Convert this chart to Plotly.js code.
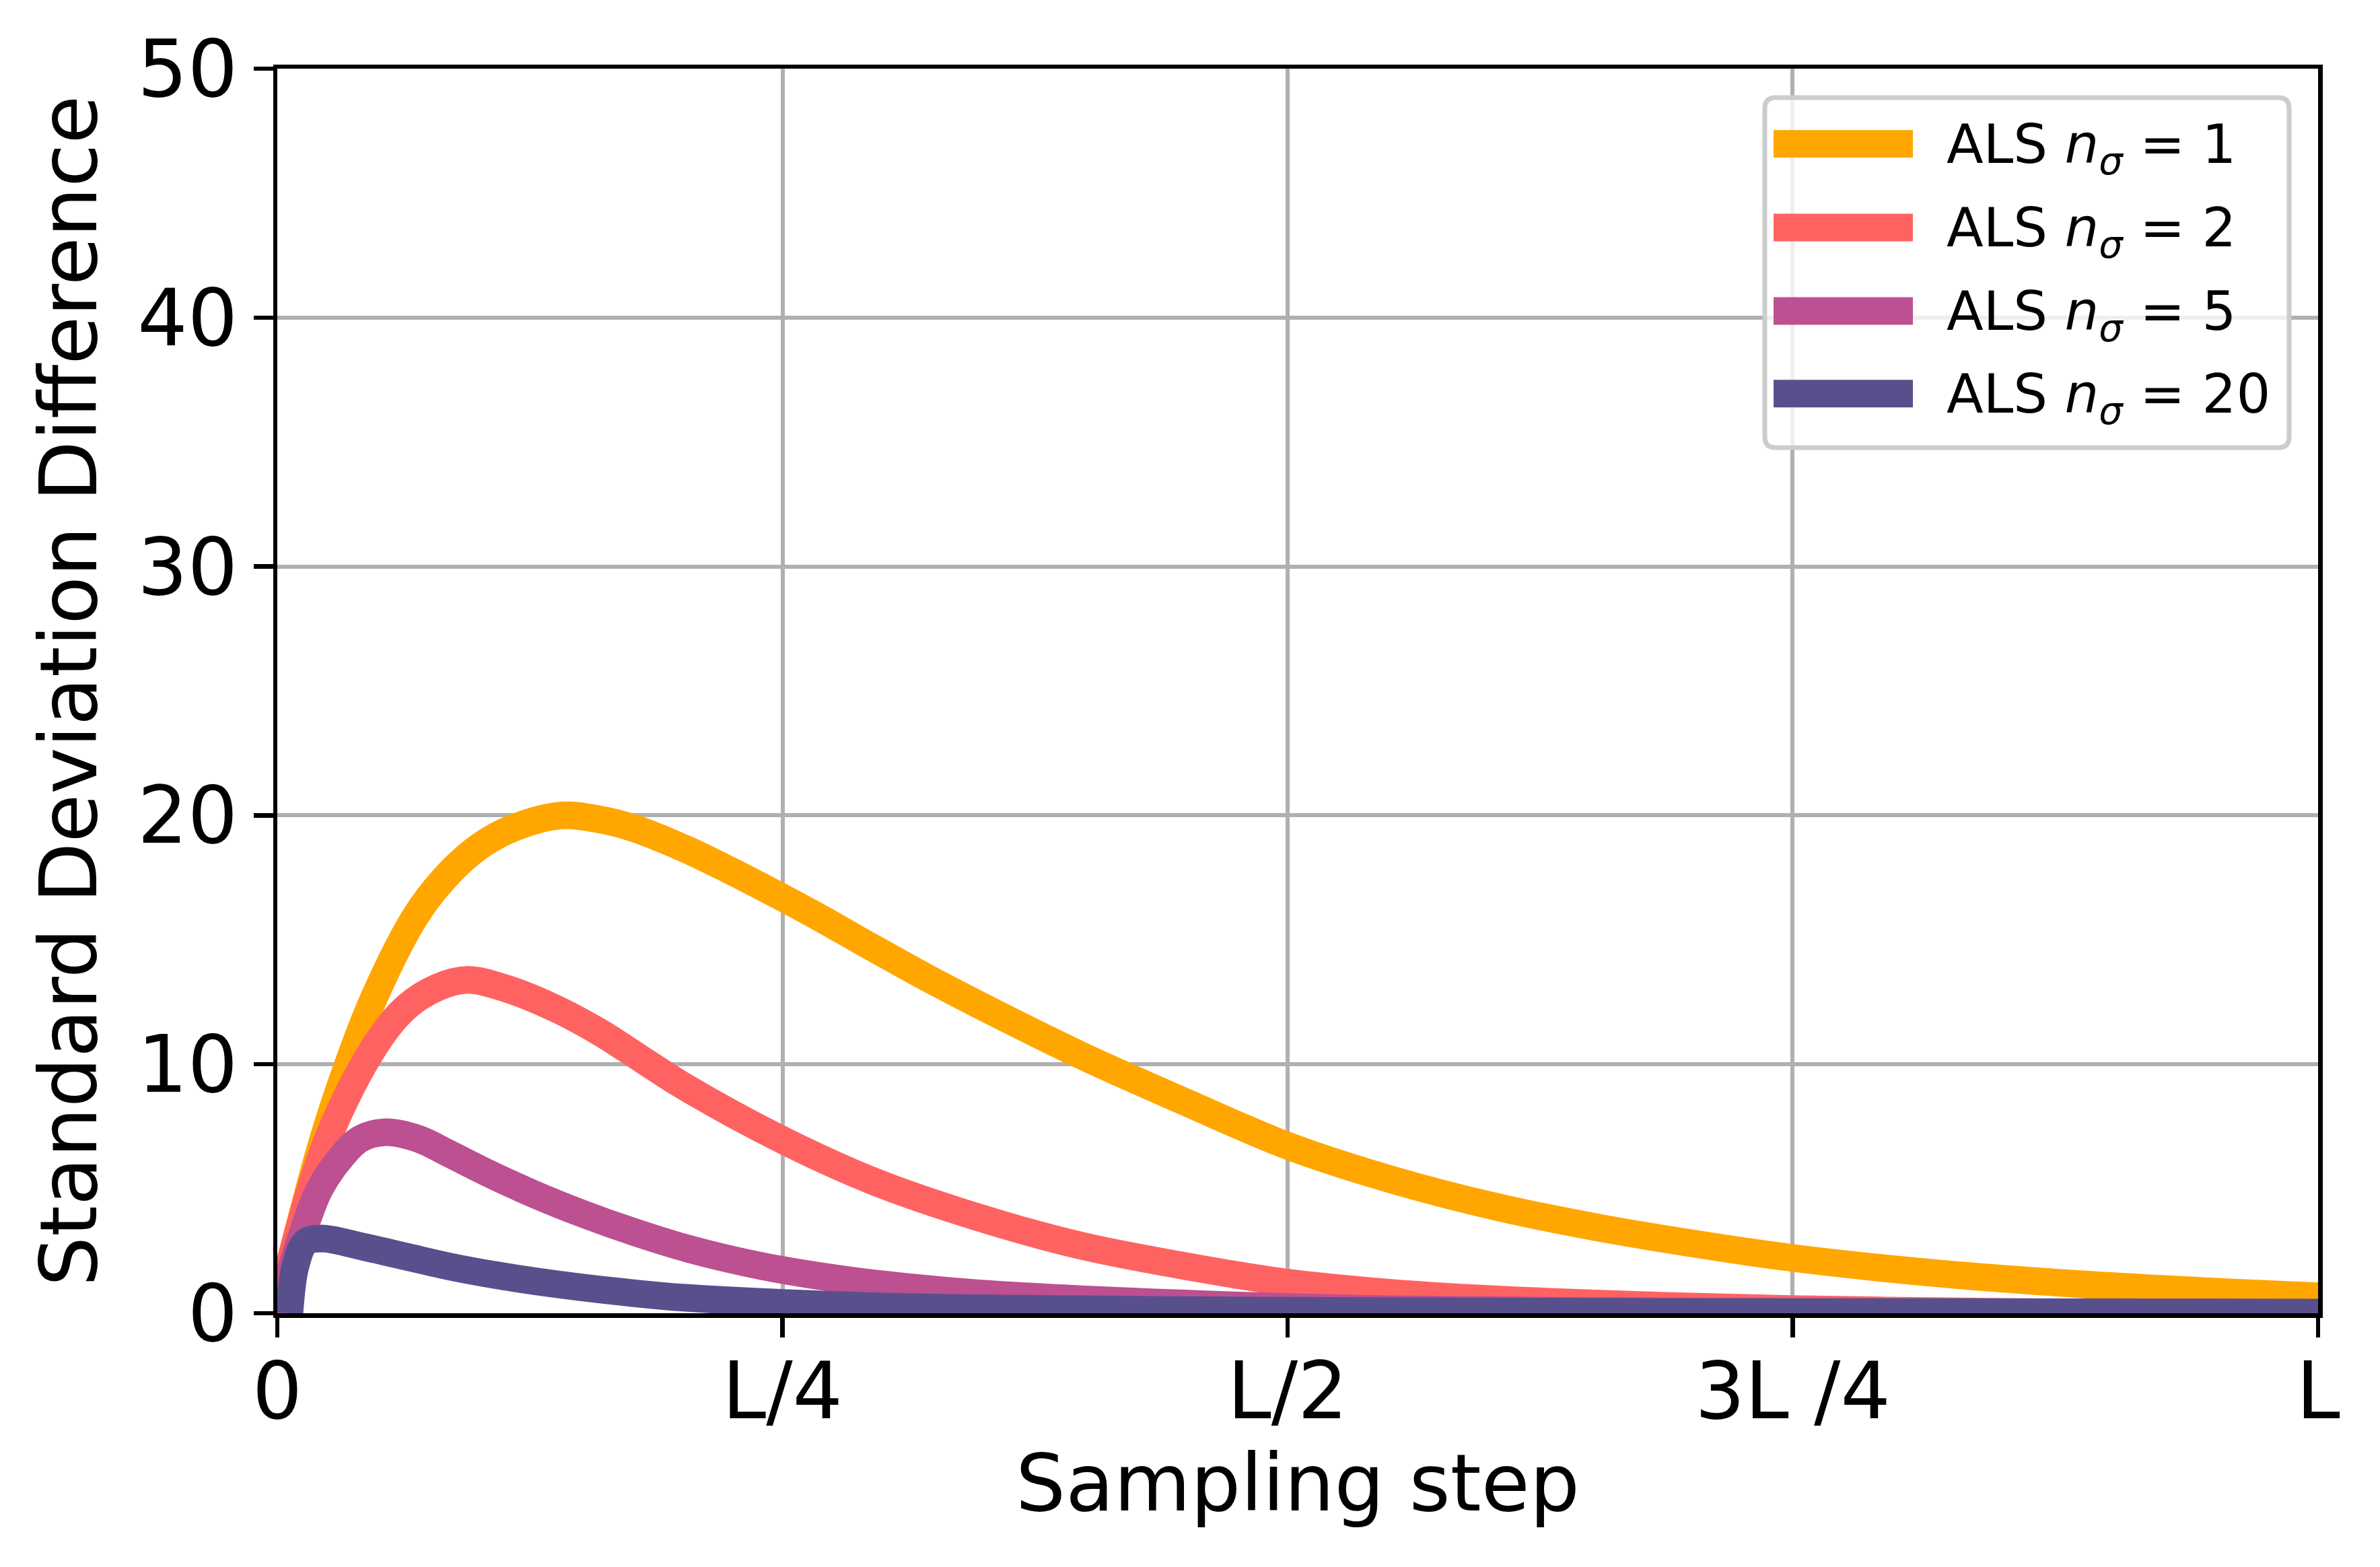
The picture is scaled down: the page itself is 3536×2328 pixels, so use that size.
<!DOCTYPE html>
<html>
<head>
<meta charset="utf-8">
<script src="https://cdn.plot.ly/plotly-3.0.1.min.js"></script>
<style>
  html, body { margin: 0; padding: 0; background: #ffffff; }
  #chart { width: 3536px; height: 2328px; }
</style>
</head>
<body>
<div id="chart"></div>
<script>
// ---------------- data ----------------
const seriesLabels = [
  'ALS <i>n</i><sub><i>σ</i></sub> = 1',
  'ALS <i>n</i><sub><i>σ</i></sub> = 2',
  'ALS <i>n</i><sub><i>σ</i></sub> = 5',
  'ALS <i>n</i><sub><i>σ</i></sub> = 20'
];
const seriesColors = ['#ffa600', '#ff6361', '#bc5090', '#58508d'];

// sampling step (L = 1010 steps on this axis)
const stepsN1 = [0, 22, 35, 48, 68, 83, 100, 117, 141, 160, 177, 202, 223, 249, 270, 291, 321, 347, 398, 449, 501, 551, 602, 653, 696, 749, 826, 896, 966, 1010];
const valsN1  = [0, 6.8, 10.0, 12.7, 15.9, 17.5, 18.75, 19.5, 20.0, 19.83, 19.47, 18.65, 17.83, 16.74, 15.82, 14.85, 13.5, 12.4, 10.35, 8.5, 6.7, 5.38, 4.3, 3.45, 2.86, 2.23, 1.57, 1.15, 0.84, 0.68];

const stepsN2 = [0, 24, 49, 64, 79, 94, 113, 138, 160, 181, 202, 249, 296, 347, 398, 449, 501, 551, 602, 653, 696, 749, 826, 896, 1010];
const valsN2  = [0, 6.8, 10.83, 12.31, 13.08, 13.39, 13.05, 12.23, 11.27, 10.17, 9.08, 7.0, 5.27, 3.85, 2.71, 1.9, 1.22, 0.82, 0.56, 0.39, 0.28, 0.17, 0.08, 0.03, 0.0];

const stepsN5 = [0, 15, 21, 30, 41, 53, 70, 85, 104, 128, 151, 177, 202, 224, 249, 287, 321, 347, 398, 449, 500, 550, 650, 800, 1010];
const valsN5  = [0, 3.8, 5.0, 6.1, 7.0, 7.27, 7.0, 6.41, 5.64, 4.75, 4.0, 3.25, 2.62, 2.17, 1.75, 1.28, 0.98, 0.8, 0.56, 0.39, 0.25, 0.16, 0.09, 0.04, 0.0];

const stepsN20 = [6, 9, 14, 22, 43, 64, 85, 109, 138, 170, 202, 296, 398, 500, 707, 1010];
const valsN20  = [0, 1.9, 2.85, 3.0, 2.66, 2.27, 1.88, 1.52, 1.17, 0.86, 0.62, 0.28, 0.16, 0.1, 0.05, 0.03];

const xTickVals = [0, 250, 500, 750, 1010];
const xTickText = ['0', 'L/4', 'L/2', '3L /4', 'L'];
const yTickVals = [0, 10, 20, 30, 40, 50];

const xTitle = 'Sampling step';
const yTitle = 'Standard Deviation Difference';

// ---------------- layout constants ----------------
const W = 3536, H = 2328;
const M = { l: 412, r: 92, t: 102, b: 377 };
const PW = W - M.l - M.r, PH = H - M.t - M.b;
const FONT = 'DejaVu Sans, Liberation Sans, sans-serif';
const LW = 41;

const px2x = X => (X - M.l) / PW;
const px2y = Y => (H - M.b - Y) / PH;

const allSteps = [stepsN1, stepsN2, stepsN5, stepsN20];
const allVals = [valsN1, valsN2, valsN5, valsN20];

const traces = allSteps.map((s, i) => ({
  type: 'scatter',
  mode: 'lines',
  x: s,
  y: allVals[i],
  name: seriesLabels[i],
  line: { color: seriesColors[i], width: LW, shape: 'spline', smoothing: 1 },
  hoverinfo: 'skip',
  showlegend: false
}));

// ---------------- custom legend (matplotlib style) ----------------
const box = { x0: px2x(2622), x1: px2x(3401), yTop: px2y(145), yBot: px2y(665) };
const rx = 16 / PW, ry = 16 / PH;
const boxPath =
  `M ${box.x0 + rx},${box.yTop} L ${box.x1 - rx},${box.yTop} ` +
  `Q ${box.x1},${box.yTop} ${box.x1},${box.yTop - ry} L ${box.x1},${box.yBot + ry} ` +
  `Q ${box.x1},${box.yBot} ${box.x1 - rx},${box.yBot} L ${box.x0 + rx},${box.yBot} ` +
  `Q ${box.x0},${box.yBot} ${box.x0},${box.yBot + ry} L ${box.x0},${box.yTop - ry} ` +
  `Q ${box.x0},${box.yTop} ${box.x0 + rx},${box.yTop} Z`;

const shapes = [{
  type: 'path', xref: 'paper', yref: 'paper', path: boxPath,
  fillcolor: 'rgba(255,255,255,0.8)', line: { color: '#cccccc', width: 7 }, layer: 'above'
}];
const annotations = [];
const rowY = [213.7, 338, 462, 584.8];
seriesLabels.forEach((lab, i) => {
  shapes.push({
    type: 'line', xref: 'paper', yref: 'paper',
    x0: px2x(2635), x1: px2x(2842), y0: px2y(rowY[i]), y1: px2y(rowY[i]),
    line: { color: seriesColors[i], width: LW }, layer: 'above'
  });
  annotations.push({
    xref: 'paper', yref: 'paper', x: px2x(2890), y: px2y(rowY[i] + 6),
    xanchor: 'left', yanchor: 'middle', showarrow: false, align: 'left',
    text: lab, font: { family: FONT, size: 80, color: '#000000' }
  });
});

const axisCommon = {
  showline: true, linecolor: '#000000', linewidth: 6.5, mirror: true,
  ticks: 'outside', ticklen: 29, tickwidth: 6.5, tickcolor: '#000000',
  showgrid: true, gridcolor: '#b0b0b0', gridwidth: 6,
  zeroline: false,
  tickfont: { family: FONT, size: 117, color: '#000000' }
};

const layout = {
  width: W, height: H,
  margin: M,
  paper_bgcolor: '#ffffff', plot_bgcolor: '#ffffff',
  showlegend: false,
  font: { family: FONT, color: '#000000' },
  xaxis: Object.assign({}, axisCommon, {
    range: [0, 1010], tickmode: 'array', tickvals: xTickVals, ticktext: xTickText,
    ticklabelstandoff: -20,
    title: { text: xTitle, font: { family: FONT, size: 117, color: '#000000' }, standoff: 18 }
  }),
  yaxis: Object.assign({}, axisCommon, {
    range: [0, 50], tickmode: 'array', tickvals: yTickVals,
    title: { text: yTitle, font: { family: FONT, size: 117, color: '#000000' }, standoff: 24 }
  }),
  shapes: shapes,
  annotations: annotations
};

Plotly.newPlot('chart', traces, layout, { displayModeBar: false, staticPlot: true });
</script>
</body>
</html>
